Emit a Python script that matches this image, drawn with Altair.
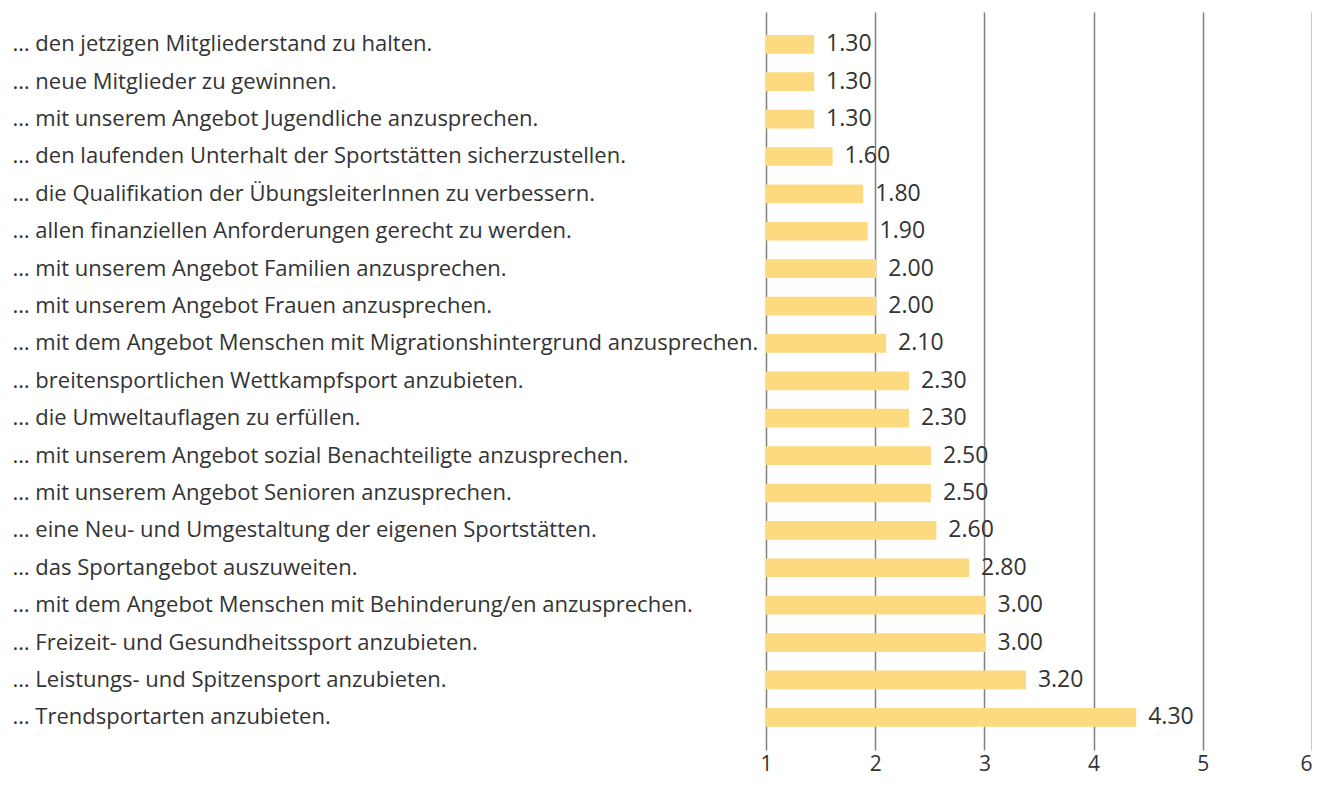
import altair as alt
import pandas as pd

categories = [
    "… den jetzigen Mitgliederstand zu halten.",
    "… neue Mitglieder zu gewinnen.",
    "… mit unserem Angebot Jugendliche anzusprechen.",
    "… den laufenden Unterhalt der Sportstätten sicherzustellen.",
    "… die Qualifikation der ÜbungsleiterInnen zu verbessern.",
    "… allen finanziellen Anforderungen gerecht zu werden.",
    "… mit unserem Angebot Familien anzusprechen.",
    "… mit unserem Angebot Frauen anzusprechen.",
    "… mit dem Angebot Menschen mit Migrationshintergrund anzusprechen.",
    "… breitensportlichen Wettkampfsport anzubieten.",
    "… die Umweltauflagen zu erfüllen.",
    "… mit unserem Angebot sozial Benachteiligte anzusprechen.",
    "… mit unserem Angebot Senioren anzusprechen.",
    "… eine Neu- und Umgestaltung der eigenen Sportstätten.",
    "… das Sportangebot auszuweiten.",
    "… mit dem Angebot Menschen mit Behinderung/en anzusprechen.",
    "… Freizeit- und Gesundheitssport anzubieten.",
    "… Leistungs- und Spitzensport anzubieten.",
    "… Trendsportarten anzubieten.",
]
# bar lengths as drawn in the picture
bar_values = [1.44, 1.44, 1.44, 1.61, 1.89, 1.93, 2.01, 2.01, 2.10, 2.31,
              2.31, 2.51, 2.51, 2.56, 2.86, 3.01, 3.01, 3.38, 4.39]
# value labels as printed
value_labels = ["1.30", "1.30", "1.30", "1.60", "1.80", "1.90", "2.00", "2.00",
                "2.10", "2.30", "2.30", "2.50", "2.50", "2.60", "2.80", "3.00",
                "3.00", "3.20", "4.30"]
x_ticks = [1, 2, 3, 4, 5, 6]

df = pd.DataFrame({"cat": categories, "val": bar_values, "lab": value_labels})

FONT = "Open Sans"
TXT = "#333333"

y_enc = alt.Y(
    "cat:N",
    sort=categories,
    scale=alt.Scale(paddingInner=0.5, paddingOuter=0.619, align=0.496),
    axis=alt.Axis(
        title=None, ticks=False, tickSize=0, domain=False, grid=False,
        labelAlign="left", labelPadding=754, labelLimit=0,
        labelFont=FONT, labelFontSize=22, labelColor=TXT, labelFontWeight=400,
    ),
)
x_scale = alt.Scale(domain=[1, 6], nice=False, zero=False, clamp=False)

bars = alt.Chart(df).mark_bar(color="#FDDA80").encode(
    x=alt.X("val:Q", scale=x_scale,
            axis=alt.Axis(title=None, values=x_ticks, format="d", grid=True,
                          gridColor={"expr": "datum.value == 6 ? '#222222' : '#808080'"},
                          gridWidth=1.5, gridOpacity=1,
                          domain=False, ticks=False, tickSize=0,
                          labelPadding=3, labelBaseline="top",
                          labelAlign={"expr": "datum.value == 6 ? 'right' : 'center'"},
                          labelFont=FONT, labelFontSize=21, labelColor=TXT,
                          labelFontWeight=400, labelFlush=False)),
    x2=alt.X2(datum=1),
    y=y_enc,
)

texts = alt.Chart(df).mark_text(
    align="left", baseline="middle", dx=12, font=FONT, fontSize=23,
    color=TXT, fontWeight=400,
).encode(
    x=alt.X("val:Q", scale=x_scale),
    y=alt.Y("cat:N", sort=categories),
    text="lab:N",
)

chart = (bars + texts).properties(
    width=546, height=738,
    autosize=alt.AutoSizeParams(type="none"),
    padding={"left": 758, "top": 4, "right": 0, "bottom": 28},
).configure_view(stroke=None)

chart.save("out.html", embed_options={"renderer": "svg", "actions": False})
